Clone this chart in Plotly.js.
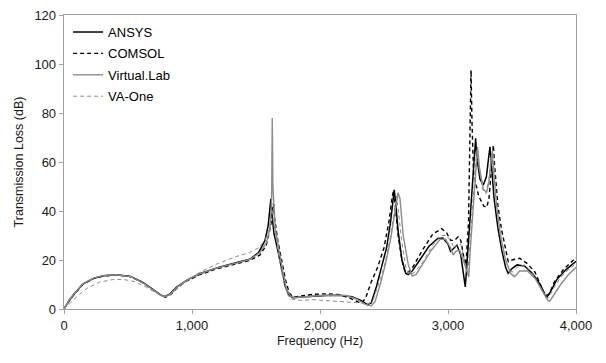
<!DOCTYPE html>
<html>
<head>
<meta charset="utf-8">
<script src="https://cdn.plot.ly/plotly-3.0.1.min.js"></script>
<style>html,body{margin:0;padding:0;background:#fff;}#chart{width:606px;height:363px;}</style>
</head>
<body>
<div id="chart"></div>
<script>
// ANSYS (black solid)
const ansysFreq = [0,40,80,150,230,310,410,520,620,700,760,790,830,880,960,1060,1200,1350,1450,1520,1570,1595,1610,1616,1622,1640,1670,1700,1730,1760,1790,1850,1950,2050,2150,2250,2320,2370,2400,2440,2480,2520,2550,2570,2580,2590,2610,2640,2670,2690,2720,2780,2850,2920,2960,3000,3020,3040,3070,3100,3120,3135,3150,3175,3200,3210,3216,3225,3250,3276,3300,3318,3328,3338,3360,3390,3420,3450,3470,3500,3540,3600,3660,3720,3760,3775,3800,3850,3920,4000];
const ansysTL   = [0,3.5,6.2,10.3,12.5,13.6,14.0,13.3,10.8,7.8,5.6,5.0,6.3,8.9,11.8,14.4,16.9,19.0,20.3,23,28,34,42,45,40,31,24,16,9,5.5,4.6,4.9,5.3,5.5,5.6,5.0,3.5,1.8,2.5,9,17,25,35,44,48.6,44,32,20,14.5,14.0,15.5,20,25.5,28.8,29,26.5,23.5,24.5,26,22,14,9,20,38,58,66,69.7,62,53,50.6,54,62,66.2,60,45,33,24,17,14.6,16.5,18,17.5,14.5,10,5.5,5,7,12,16,19.5];

// COMSOL (black dashed)
const comsolFreq = [0,40,80,150,230,310,410,520,620,700,760,795,840,890,960,1060,1200,1350,1450,1530,1580,1615,1630,1636,1645,1670,1700,1730,1760,1790,1850,1950,2050,2150,2230,2300,2330,2360,2400,2450,2500,2540,2565,2575,2588,2610,2640,2665,2690,2730,2800,2880,2950,2990,3020,3050,3080,3100,3120,3140,3160,3172,3180,3188,3200,3240,3280,3302,3320,3340,3354,3365,3390,3420,3450,3471,3500,3560,3620,3680,3730,3760,3790,3830,3900,4000];
const comsolTL   = [0,3.3,6.0,10.2,12.4,13.5,13.9,13.2,10.6,7.6,5.5,4.8,6.2,8.9,11.5,14.0,16.5,18.5,19.8,22,26,34,41,43,37,28,20,12,6.5,4.8,5.3,6.0,6.2,5.8,4.5,2.8,2.5,5,11,17,25,36,46,48.5,42,30,20,15,15,17.5,24,30.5,32.8,31,28,28,29.5,28,22,18,35,70,97.5,75,55,46,42,41.5,45,58,66.9,58,42,32,24,19.3,20,20.7,18.5,15,9,5.5,6,11,16,21];

// Virtual.Lab (grey solid)
const vlabFreq = [0,40,80,150,230,310,410,520,620,700,760,795,840,890,960,1060,1200,1350,1450,1530,1580,1610,1622,1627,1632,1650,1680,1710,1740,1770,1800,1900,2000,2100,2200,2280,2350,2400,2430,2470,2510,2550,2590,2610,2625,2650,2690,2720,2750,2800,2870,2940,2980,3020,3040,3060,3090,3120,3150,3162,3175,3200,3222,3231,3245,3275,3302,3320,3340,3346,3358,3380,3410,3450,3490,3520,3560,3620,3680,3740,3780,3795,3830,3880,3940,4000];
const vlabTL   = [0,3.6,6.3,10.4,12.6,13.7,14.0,13.2,10.6,7.6,5.5,5.0,6.5,9.2,11.8,14.3,16.8,18.8,20.2,23,27,33,45,78,50,33,24,15,8,5.2,4.6,5.2,5.5,5.7,5.5,4.2,2,1.2,3,10,18,28,40,47.5,45,30,18,13.5,14,18,24,28.5,28.5,25,22,23.5,24,20,15,13,25,45,60,66.2,58,49,47.5,52,62,64,55,42,30,20,14.5,13.2,15.5,15.5,12.5,7,3.5,3.2,6,10,14,17];

// VA-One (grey dashed)
const vaoneFreq = [0,50,100,180,280,380,460,550,640,720,780,820,880,960,1060,1200,1350,1450,1520,1570,1605,1620,1626,1635,1660,1690,1720,1750,1780,1850,1950,2050,2150,2250,2320,2370,2410,2450,2500,2545,2580,2598,2612,2640,2670,2700,2740,2800,2880,2950,2990,3030,3050,3070,3100,3130,3155,3175,3200,3220,3228,3240,3270,3295,3320,3340,3350,3362,3385,3420,3460,3500,3540,3600,3660,3720,3765,3785,3820,3880,3950,4000];
const vaoneTL   = [0,2.5,5,8.5,11,12,12.1,11.2,9,6.5,5,5.5,8,11.5,15,18.5,21.5,23,25,28,33,38,41,36,27,18,10,5.5,4,3.5,3.8,3.5,3.2,3.0,2.5,2,3,9,17,28,40,46,40,27,17,14,15,19,26,30,30,27,24.5,26,26.5,20,14,30,50,62,65,58,49,47,53,63,65,55,40,27,18,15,17,18,14.5,9,4.5,4.5,8,13,16.5,18.5];

const seriesNames = ["ANSYS","COMSOL","Virtual.Lab","VA-One"];
const xTickVals = [0,1000,2000,3000,4000];
const yTickVals = [0,20,40,60,80,100,120];

const traces = [
  {x: ansysFreq, y: ansysTL, name: seriesNames[0], legendgroup:"a", line:{color:"#000000", width:1.5, dash:"solid"}},
  {x: comsolFreq, y: comsolTL, name: seriesNames[1], legendgroup:"b", line:{color:"#000000", width:1.4, dash:"4px,3px"}},
  {x: vlabFreq, y: vlabTL, name: seriesNames[2], legendgroup:"c", line:{color:"#8c8c8c", width:1.4, dash:"solid"}},
  {x: vaoneFreq, y: vaoneTL, name: seriesNames[3], legendgroup:"d", line:{color:"#8c8c8c", width:1, dash:"4px,3px"}}
].map(t => Object.assign({type:"scatter", mode:"lines"}, t));

const axisCommon = {
  showline:true, linecolor:"#a0a0a0", linewidth:1.3, mirror:true,
  showgrid:false, zeroline:false,
  ticks:"outside", ticklen:4, tickcolor:"#a0a0a0", tickwidth:1,
  tickfont:{family:"Liberation Sans, Arial, sans-serif", size:13, color:"#1a1a1a"}
};

const layout = {
  width:606, height:363,
  margin:{l:64, r:30, t:15, b:54},
  paper_bgcolor:"#fff", plot_bgcolor:"#fff",
  font:{family:"Liberation Sans, Arial, sans-serif", size:13, color:"#1a1a1a"},
  showlegend:true,
  legend:{x:0.008, y:0.993, xanchor:"left", yanchor:"top", bgcolor:"rgba(0,0,0,0)",
          traceorder:"grouped", tracegroupgap:1.5,
          font:{family:"Liberation Sans, Arial, sans-serif", size:13, color:"#000"}, itemwidth:30},
  xaxis: Object.assign({}, axisCommon, {
    range:[0,4000], tickvals:xTickVals, tickformat:",",
    title:{text:"Frequency (Hz)", font:{size:12.5}, standoff:4}
  }),
  yaxis: Object.assign({}, axisCommon, {
    range:[0,120], tickvals:yTickVals,
    title:{text:"Transmission Loss (dB)", font:{size:12.5}, standoff:8}
  })
};

Plotly.newPlot("chart", traces, layout, {staticPlot:true, displayModeBar:false});
</script>
</body>
</html>
